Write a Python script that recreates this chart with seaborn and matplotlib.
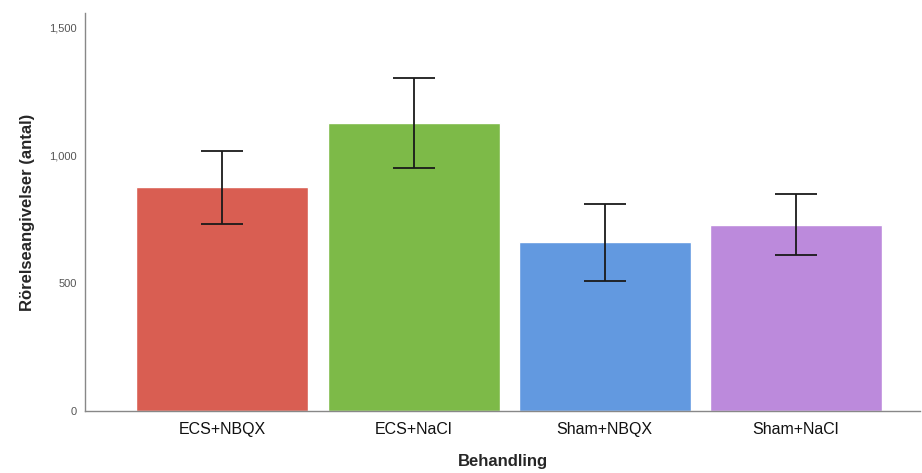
import matplotlib
matplotlib.use('Agg')
import matplotlib.pyplot as plt
import seaborn as sns
import pandas as pd
import numpy as np

# data
groups = ['ECS+NBQX', 'ECS+NaCl', 'Sham+NBQX', 'Sham+NaCl']
means = [877, 1127, 662, 728]
ci_low = [732, 951, 509, 611]
ci_high = [1018, 1304, 810, 850]
colors = ['#D95E52', '#7DBA48', '#6299E0', '#BC8ADC']

sns.set_style('white')
plt.rcParams['font.family'] = ['Liberation Sans', 'DejaVu Sans']

df = pd.DataFrame({'Behandling': groups, 'antal': means})

fig = plt.figure(figsize=(9.22, 4.73), dpi=100)
ax = fig.add_axes([0.092, 0.131, 0.906, 0.842])

sns.barplot(data=df, x='Behandling', y='antal', hue='Behandling',
            palette=colors, saturation=1, width=0.9, errorbar=None,
            legend=False, ax=ax)

x = np.arange(len(groups))
yerr = [np.array(means) - np.array(ci_low), np.array(ci_high) - np.array(means)]
ax.errorbar(x, means, yerr=yerr, fmt='none', ecolor='#1a1a1a', elinewidth=1.3,
            capsize=15, capthick=1.3)

ax.set_xlim(-0.72, 3.65)
ax.set_ylim(0, 1558)
ax.set_yticks([0, 500, 1000, 1500])
ax.yaxis.set_major_formatter(matplotlib.ticker.FuncFormatter(lambda v, p: f'{int(v):,}'))
ax.tick_params(axis='y', labelsize=8, colors='#555555', length=0, pad=6)
ax.tick_params(axis='x', labelsize=11.5, colors='#111111', length=0, pad=8)

for side in ['top', 'right']:
    ax.spines[side].set_visible(False)
for side in ['left', 'bottom']:
    ax.spines[side].set_color('#888888')
    ax.spines[side].set_linewidth(1.0)

ax.set_xlabel('Behandling', fontsize=12, fontweight='bold', labelpad=12)
ax.set_ylabel('Rörelseangivelser (antal)', fontsize=12, fontweight='bold', labelpad=10)

fig.savefig('out.png', dpi=100)
